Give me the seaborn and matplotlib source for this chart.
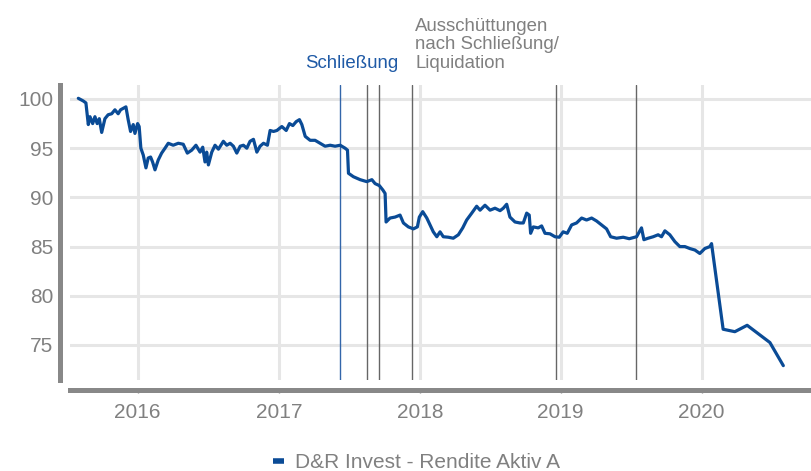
import matplotlib
matplotlib.use("Agg")
import matplotlib.pyplot as plt
import pandas as pd
import seaborn as sns

# Wertentwicklung: Zeitpunkt als Dezimaljahr, Indexwert
jahr = [2015.579, 2015.614, 2015.633, 2015.650, 2015.662, 2015.681, 2015.697, 2015.713,
        2015.728, 2015.745, 2015.768, 2015.791, 2015.816, 2015.839, 2015.862, 2015.879,
        2015.898, 2015.917, 2015.933, 2015.950, 2015.969, 2015.981, 2016.000, 2016.011,
        2016.023, 2016.040, 2016.059, 2016.075, 2016.092, 2016.106, 2016.123, 2016.146,
        2016.170, 2016.194, 2016.217, 2016.252, 2016.288, 2016.323, 2016.352, 2016.383,
        2016.413, 2016.442, 2016.461, 2016.477, 2016.489, 2016.501, 2016.525, 2016.548,
        2016.572, 2016.607, 2016.631, 2016.655, 2016.678, 2016.702, 2016.726, 2016.749,
        2016.773, 2016.796, 2016.820, 2016.844, 2016.867, 2016.891, 2016.919, 2016.938,
        2016.962, 2016.986, 2017.021, 2017.052, 2017.075, 2017.099, 2017.123, 2017.146,
        2017.163, 2017.187, 2017.222, 2017.257, 2017.293, 2017.328, 2017.364, 2017.399,
        2017.435, 2017.470, 2017.487, 2017.494, 2017.529, 2017.577, 2017.624, 2017.660,
        2017.683, 2017.713, 2017.738, 2017.754, 2017.761, 2017.789, 2017.825, 2017.860,
        2017.884, 2017.919, 2017.955, 2017.983, 2017.997, 2018.021, 2018.050, 2018.073,
        2018.096, 2018.121, 2018.144, 2018.167, 2018.203, 2018.238, 2018.274, 2018.305,
        2018.333, 2018.369, 2018.404, 2018.428, 2018.463, 2018.499, 2018.534, 2018.570,
        2018.593, 2018.617, 2018.640, 2018.676, 2018.711, 2018.735, 2018.759, 2018.777,
        2018.787, 2018.806, 2018.841, 2018.865, 2018.889, 2018.924, 2018.960, 2018.990,
        2019.018, 2019.047, 2019.078, 2019.113, 2019.149, 2019.184, 2019.220, 2019.255,
        2019.291, 2019.326, 2019.355, 2019.397, 2019.444, 2019.487, 2019.539, 2019.574,
        2019.591, 2019.621, 2019.657, 2019.692, 2019.716, 2019.740, 2019.775, 2019.811,
        2019.846, 2019.882, 2019.917, 2019.953, 2019.988, 2020.023, 2020.059, 2020.071,
        2020.153, 2020.236, 2020.323, 2020.484, 2020.579]
wert = [100.07, 99.8, 99.6, 97.4, 98.2, 97.5, 98.2, 97.5,
        98.0, 96.6, 98.0, 98.4, 98.5, 98.9, 98.5, 98.9,
        99.05, 99.2, 97.9, 96.7, 97.4, 96.5, 97.5, 97.2,
        95.0, 94.3, 93.0, 94.0, 94.1, 93.6, 92.8, 93.8,
        94.5, 95.0, 95.5, 95.3, 95.5, 95.4, 94.5, 94.8,
        95.3, 94.6, 95.1, 93.6, 94.6, 93.3, 94.6, 95.3,
        94.9, 95.7, 95.3, 95.5, 95.2, 94.5, 95.2, 95.3,
        95.0, 95.7, 95.9, 94.6, 95.2, 95.5, 95.3, 96.8,
        96.7, 96.8, 97.2, 96.8, 97.5, 97.3, 97.7, 97.9,
        97.4, 96.2, 95.8, 95.8, 95.5, 95.2, 95.3, 95.2,
        95.3, 95.0, 94.8, 92.45, 92.1, 91.8, 91.6, 91.8,
        91.4, 91.2, 90.75, 90.4, 87.5, 87.9, 88.0, 88.2,
        87.4, 87.0, 86.8, 87.0, 88.0, 88.55, 87.9, 87.2,
        86.5, 86.0, 86.5, 86.0, 85.95, 85.85, 86.2, 86.9,
        87.7, 88.4, 89.1, 88.7, 89.2, 88.7, 88.9, 88.65,
        88.9, 89.3, 88.0, 87.5, 87.4, 87.4, 88.4, 88.2,
        86.35, 87.0, 86.9, 87.1, 86.35, 86.3, 86.0, 85.95,
        86.5, 86.35, 87.2, 87.4, 87.9, 87.7, 87.9, 87.6,
        87.2, 86.8, 86.0, 85.85, 85.95, 85.8, 86.0, 86.9,
        85.7, 85.85, 86.0, 86.2, 86.0, 86.6, 86.2, 85.5,
        85.0, 85.0, 84.8, 84.65, 84.3, 84.8, 85.0, 85.3,
        76.6, 76.35, 77.0, 75.25, 72.9]

fonds = "D&R Invest - Rendite Aktiv A"

# Ereignisse
schliessung = 2017.435
ausschuettungen = [2017.626, 2017.711, 2017.948, 2018.965, 2019.534]

jahre_ticks = [2016, 2017, 2018, 2019, 2020]
werte_ticks = [75, 80, 85, 90, 95, 100]

blau = "#0a4b96"
grau = "#808080"


def zu_datum(t):
    j = int(t)
    start = pd.Timestamp(j, 1, 1)
    tage = (pd.Timestamp(j + 1, 1, 1) - start).days
    return start + pd.Timedelta(days=(t - j) * tage)


df = pd.DataFrame({"Datum": [zu_datum(t) for t in jahr], "Wert": wert, "Fonds": fonds})

sns.set_theme(style="whitegrid")
plt.rcParams["font.family"] = ["Liberation Sans", "DejaVu Sans"]

fig = plt.figure(figsize=(8.11, 4.71), dpi=100)
ax = fig.add_axes([0.0863, 0.1932, 0.9137, 0.6263])

sns.lineplot(data=df, x="Datum", y="Wert", hue="Fonds", palette=[blau],
             linewidth=2.3, ax=ax, zorder=5)

# Schliessung und Ausschuettungen
ax.axvline(zu_datum(schliessung), color="#3366aa", linewidth=1, zorder=4)
for t in ausschuettungen:
    ax.axvline(zu_datum(t), color="#666666", linewidth=1, zorder=4)

ax.text(zu_datum(2017.846), 102.74, "Schließung", color="#1f5aa6",
        fontsize=13.4, ha="right", va="bottom", clip_on=False)
ax.text(zu_datum(2017.967), 102.74, "Ausschüttungen\nnach Schließung/\nLiquidation",
        color=grau, fontsize=13.4, ha="left", va="bottom", linespacing=1.12,
        clip_on=False)

ax.set_xlim(zu_datum(2015.520), zu_datum(2020.775))
ax.set_ylim(71.44, 101.42)
ax.set_xticks([zu_datum(j) for j in jahre_ticks])
ax.set_xticklabels([str(j) for j in jahre_ticks])
ax.set_yticks(werte_ticks)
ax.set_xlabel("")
ax.set_ylabel("")

ax.grid(True, color="#e6e6e6", linewidth=2.2)
ax.set_axisbelow(True)

sns.despine(ax=ax, offset=7)
for s in ["left", "bottom"]:
    ax.spines[s].set_color("#888888")
    ax.spines[s].set_linewidth(3.6)

ax.tick_params(axis="y", length=0, pad=5, labelsize=15, labelcolor=grau)
ax.tick_params(axis="x", length=2.5, width=1, color="#888888", direction="out",
               pad=7, labelsize=15, labelcolor=grau, bottom=True)

handles, labels = ax.get_legend_handles_labels()
ax.legend_.remove()
leg = fig.legend(handles, labels, loc="center", bbox_to_anchor=(0.5136, 0.017),
                 frameon=False, handlelength=0.5, handletextpad=0.55,
                 fontsize=15, labelcolor=grau)
for ln in leg.get_lines():
    ln.set_linewidth(4)
    ln.set_solid_capstyle("butt")

fig.savefig("out.png", dpi=100)
